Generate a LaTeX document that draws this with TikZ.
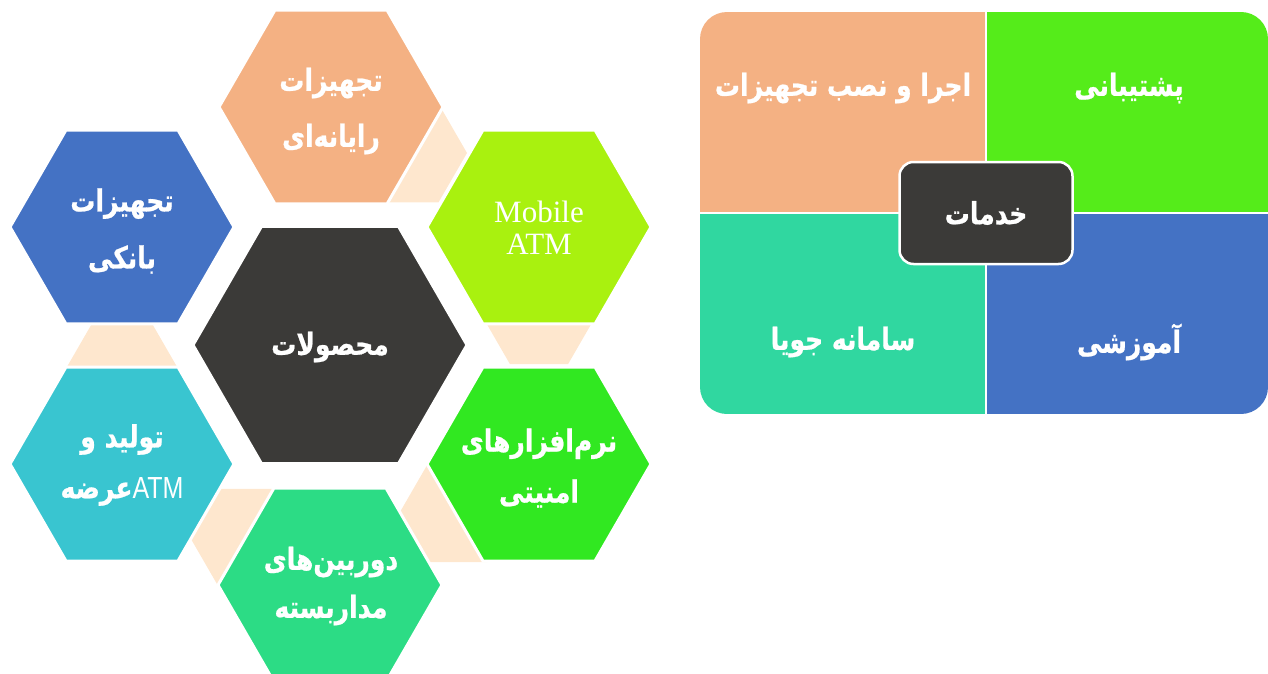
\documentclass[tikz,border=0pt]{standalone}
\usepackage{fontspec}
\newfontfamily\fa[Script=Arabic, BoldFeatures={FakeBold=0.8}]{DejaVu Sans}
\newfontfamily\tms{Liberation Serif}
\newfontfamily\arl{Liberation Sans}
\TeXXeTstate=1
\definecolor{peach}{HTML}{F4B183}
\definecolor{lightpeach}{HTML}{FEE7CE}
\definecolor{lime}{HTML}{A9F10F}
\definecolor{obblue}{HTML}{4472C4}
\definecolor{darkc}{HTML}{3B3A38}
\definecolor{cyanc}{HTML}{39C5D0}
\definecolor{greenc}{HTML}{31E821}
\definecolor{tealc}{HTML}{2CDC85}
\definecolor{pgreen}{HTML}{55EC1A}
\definecolor{pteal}{HTML}{30D7A0}
\newcommand\hexa[4]{\begin{scope}[shift={(#1,#2)}]\filldraw[#4] (0:#3)--(60:#3)--(120:#3)--(180:#3)--(240:#3)--(300:#3)--cycle;\end{scope}}
\newcommand\fl[1]{\scalebox{1}[1.22]{\beginR #1\endR}}
\tikzset{
  mainhex/.style={draw=white, line width=3pt, line join=miter},
  conhex/.style={fill=lightpeach, draw=none},
  fatxt/.style={text=white, font=\fa\bfseries\fontsize{25}{#1}\selectfont, align=center, inner sep=0pt},
  fatxt/.default=30
}
\begin{document}
\begin{tikzpicture}[x=1pt, y=-1pt]
\useasboundingbox (0,0) rectangle (1268,674);
% connector hexagons
\hexa{410}{153}{57}{conhex}
\hexa{539}{314}{58}{conhex}
\hexa{458}{512}{58}{conhex}
\hexa{249}{539}{58}{conhex}
\hexa{122}{372}{58}{conhex}
% main hexagons
\hexa{331}{107}{112}{mainhex, fill=peach}
\hexa{122}{227}{112}{mainhex, fill=obblue}
\hexa{539}{227}{112}{mainhex, fill=lime}
\hexa{330}{345}{137}{mainhex, fill=darkc}
\hexa{122}{464}{112}{mainhex, fill=cyanc}
\hexa{539}{464}{112}{mainhex, fill=greenc}
\hexa{330}{585}{112}{mainhex, fill=tealc}
% hexagon texts
\node[fatxt=56] (hrayane) at (331,111) {\fl{تجهیزات}\\\fl{رایانه‌ای}};
\node[fatxt=57] (hbanki) at (122,231) {\fl{تجهیزات}\\\fl{بانکی}};
\node[text=white, font=\tms\fontsize{31}{32}\selectfont, align=center, inner sep=0pt] (hmobile) at (539,228) {Mobile\\ATM};
\node[fatxt] (hmahsulat) at (330,347) {\fl{محصولات}};
\node[fatxt=51] (htolid) at (122,465) {\fl{تولید و}\\\fl{\beginL{\arl\mdseries ATM}\endL عرضه}};
\node[fatxt=51] (hnarm) at (539,468) {\fl{نرم‌افزارهای}\\\fl{امنیتی}};
\node[fatxt=48] (hdurbin) at (331,586) {\fl{دوربین‌های}\\\fl{مداربسته}};
% services panel
\begin{scope}
\clip[rounded corners=27pt] (700,12) rectangle (1268,414);
\fill[peach] (700,12) rectangle (986,213);
\fill[pgreen] (986,12) rectangle (1268,213);
\fill[pteal] (700,213) rectangle (986,414);
\fill[obblue] (986,213) rectangle (1268,414);
\end{scope}
\draw[white, line width=2.5pt] (986,12) -- (986,414) (700,213) -- (1268,213);
\node[fatxt] (pejra) at (843,88) {\fl{اجرا و نصب تجهیزات}};
\node[fatxt] (pposhti) at (1129,88) {\fl{پشتیبانی}};
\node[fatxt] (psamane) at (843,342) {\fl{سامانه جویا}};
\node[fatxt] (pamuzesh) at (1129,342) {\fl{آموزشی}};
\node[fill=darkc, draw=white, line width=2.5pt, rounded corners=14pt, minimum width=173pt, minimum height=102pt, inner sep=0pt] (khadamat) at (986,213) {};
\node[fatxt] (khtxt) at (khadamat.center) {\fl{خدمات}};
\end{tikzpicture}
\end{document}
